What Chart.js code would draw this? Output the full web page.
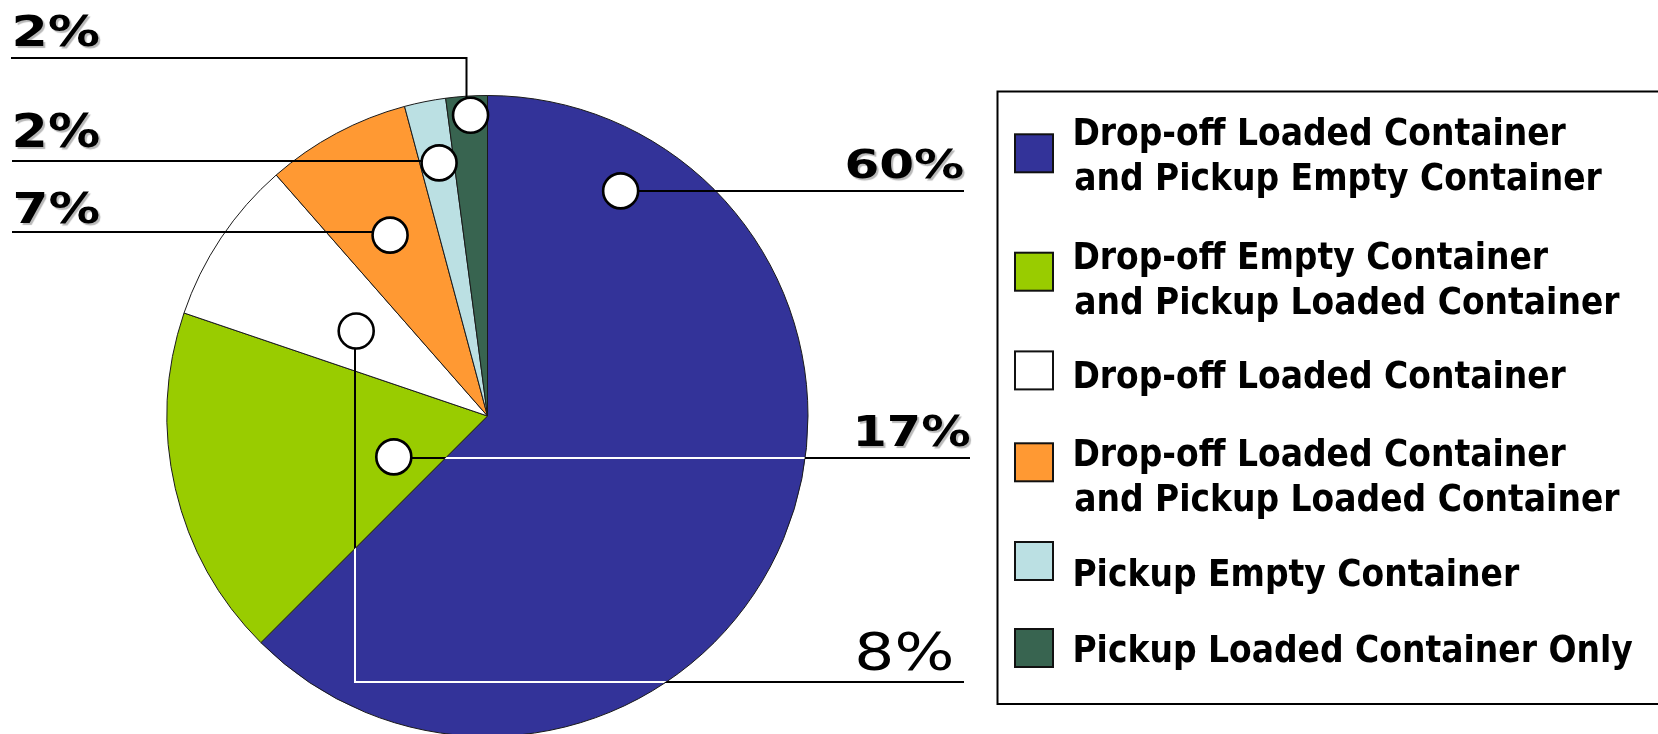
<!DOCTYPE html>
<html>
<head>
<meta charset="utf-8">
<script src="https://cdn.jsdelivr.net/npm/chart.js@4.4.1/dist/chart.umd.min.js"></script>
<style>
  html, body { margin: 0; padding: 0; background: #fff; overflow: hidden; }
  #wrap { width: 1658px; height: 734px; }
</style>
</head>
<body>
<div id="wrap"><canvas id="tripChart" width="1658" height="734"></canvas></div>
<script>
// trip types and their share of terminal visits (%)
const categories = [
    ['Drop-off Loaded Container', 'and Pickup Empty Container'],
    ['Drop-off Empty Container', 'and Pickup Loaded Container'],
    ['Drop-off Loaded Container'],
    ['Drop-off Loaded Container', 'and Pickup Loaded Container'],
    ['Pickup Empty Container'],
    ['Pickup Loaded Container Only']
];
const shares = [60, 17, 8, 7, 2, 2];
const sliceColors = ['#333399', '#99CC00', '#FFFFFF', '#FF9933', '#BBE0E3', '#386450'];

// callout placement (marker position inside the slice, leader route, label box)
const callouts = [
    { at: 0.136, r: 0.816, route: 'right', endX: 964, dy: 0, label: { right: 963, gap: 13.3, w: 116, cap: 28.4, bold: true } },
    { at: 0.336, r: 0.319, route: 'right', endX: 970, dy: 0.7, label: { right: 970, gap: 11.7, w: 113, cap: 31.7, bold: true } },
    { at: 0.472, r: 0.488, route: 'down', downY: 682, endX: 964, label: { right: 951.7, gap: 12.4, w: 93.7, cap: 37.7, bold: false } },
    { at: 0.493, r: 0.641, route: 'left', endX: 12, dy: -3, label: { left: 15, gap: 9.3, w: 84.3, cap: 31, bold: true } },
    { at: 0.556, r: 0.804, route: 'left', endX: 12, dy: -2.3, label: { left: 15, gap: 14, w: 84.3, cap: 33.3, bold: true } },
    { at: 0.570, r: 0.940, route: 'up', upY: 58, dx: -5, endX: 11, label: { left: 15, gap: 12, w: 84.3, cap: 31.7, bold: true } }
];

const legendLayout = {
    box: { x: 997.5, y: 91.5, w: 700, h: 612.5 },
    swatchX: 1015, swatchSize: 38,
    swatchTops: [134.3, 252.7, 351.4, 443.3, 542, 629],
    textX: 1075,
    baselines: [[145, 190], [268.5, 313.5], [388], [466, 511], [586], [662]],
    cap: 27.7, refWidth: 558
};

const MARK_R = 17.5;
const FONT = '"DejaVu Sans", Verdana, sans-serif';

function fitText(ctx, text, x, base, w, cap, weight, align) {
    const size = cap / 0.729;
    ctx.font = weight + ' ' + size + 'px ' + FONT;
    const m = ctx.measureText(text);
    const ink = m.actualBoundingBoxRight + m.actualBoundingBoxLeft;
    const sx = w / ink;
    const left = align === 'right' ? x - w : x;
    ctx.save();
    ctx.textAlign = 'left';
    ctx.textBaseline = 'alphabetic';
    ctx.translate(left + m.actualBoundingBoxLeft * sx, base);
    ctx.scale(sx, 1);
    ctx.fillText(text, 0, 0);
    ctx.restore();
}

function isDark(hex) {
    const v = parseInt(hex.slice(1), 16);
    const r = (v >> 16) & 255, g = (v >> 8) & 255, b = v & 255;
    return (0.299 * r + 0.587 * g + 0.114 * b) < 110;
}

const calloutPlugin = {
    id: 'callouts',
    afterDatasetsDraw(chart) {
        const ctx = chart.ctx;
        const arcs = chart.getDatasetMeta(0).data;
        const values = chart.data.datasets[0].data;

        arcs.forEach((arc, i) => {
            const c = callouts[i];
            const p = arc.getProps(['x', 'y', 'startAngle', 'endAngle', 'outerRadius'], true);
            const a = p.startAngle + (p.endAngle - p.startAngle) * c.at;
            const mx = p.x + Math.cos(a) * p.outerRadius * c.r;
            const my = p.y + Math.sin(a) * p.outerRadius * c.r;

            let pts, lineY;
            if (c.route === 'right' || c.route === 'left') {
                lineY = Math.round(my + c.dy);
                pts = [[mx, lineY], [c.endX, lineY]];
            } else if (c.route === 'down') {
                const vx = Math.round(mx - 1.3);
                lineY = c.downY;
                pts = [[vx, my], [vx, lineY], [c.endX, lineY]];
            } else {
                const vx = Math.round(mx + c.dx) + 0.5;
                lineY = c.upY;
                pts = [[vx, my], [vx, lineY], [c.endX, lineY]];
            }

            const stroke = (color) => {
                ctx.beginPath();
                ctx.moveTo(pts[0][0], pts[0][1]);
                for (let k = 1; k < pts.length; k++) ctx.lineTo(pts[k][0], pts[k][1]);
                ctx.strokeStyle = color;
                ctx.lineWidth = 2;
                ctx.lineJoin = 'miter';
                ctx.stroke();
            };

            ctx.save();
            stroke('#000');
            // leader turns white where it crosses another, dark slice
            arcs.forEach((other, j) => {
                if (j === i || !isDark(sliceColors[j])) return;
                const q = other.getProps(['x', 'y', 'startAngle', 'endAngle', 'outerRadius'], true);
                ctx.save();
                ctx.beginPath();
                ctx.moveTo(q.x, q.y);
                ctx.arc(q.x, q.y, q.outerRadius - 0.5, q.startAngle, q.endAngle);
                ctx.closePath();
                ctx.clip();
                stroke('#fff');
                ctx.restore();
            });
            ctx.restore();

            // marker
            ctx.save();
            ctx.beginPath();
            ctx.arc(mx, my, MARK_R, 0, Math.PI * 2);
            ctx.fillStyle = '#fff';
            ctx.fill();
            ctx.lineWidth = 2.6;
            ctx.strokeStyle = '#000';
            ctx.stroke();
            ctx.restore();

            // percentage label
            const L = c.label;
            ctx.save();
            ctx.fillStyle = '#000';
            if (L.bold) {
                ctx.shadowColor = 'rgba(0,0,0,0.28)';
                ctx.shadowOffsetX = 2;
                ctx.shadowOffsetY = 2;
                ctx.shadowBlur = 1;
            }
            const txt = values[i] + '%';
            if (L.right !== undefined) {
                fitText(ctx, txt, L.right, lineY - L.gap, L.w, L.cap, L.bold ? 'bold' : 'normal', 'right');
            } else {
                fitText(ctx, txt, L.left, lineY - L.gap, L.w, L.cap, 'bold', 'left');
            }
            ctx.restore();
        });
    }
};

const legendPlugin = {
    id: 'boxLegend',
    afterDraw(chart) {
        const ctx = chart.ctx;
        const lay = legendLayout;
        const labels = chart.data.labels;
        const colors = chart.data.datasets[0].backgroundColor;

        ctx.save();
        ctx.lineWidth = 2;
        ctx.strokeStyle = '#000';
        ctx.strokeRect(lay.box.x, lay.box.y, lay.box.w, lay.box.h);

        const size = lay.cap / 0.729;
        ctx.font = 'bold ' + size + 'px ' + FONT;
        const ref = ctx.measureText(labels[5][0]);
        const sx = lay.refWidth / (ref.actualBoundingBoxRight + ref.actualBoundingBoxLeft);

        labels.forEach((lines, i) => {
            ctx.fillStyle = colors[i];
            ctx.fillRect(lay.swatchX, lay.swatchTops[i], lay.swatchSize, lay.swatchSize);
            ctx.strokeStyle = '#111';
            ctx.lineWidth = 2;
            ctx.strokeRect(lay.swatchX, lay.swatchTops[i], lay.swatchSize, lay.swatchSize);

            ctx.fillStyle = '#000';
            ctx.textAlign = 'left';
            ctx.textBaseline = 'alphabetic';
            lines.forEach((line, k) => {
                const m = ctx.measureText(line);
                ctx.save();
                ctx.translate(lay.textX + m.actualBoundingBoxLeft * sx, lay.baselines[i][k]);
                ctx.scale(sx, 1);
                ctx.fillText(line, 0, 0);
                ctx.restore();
            });
        });
        ctx.restore();
    }
};

const ctx = document.getElementById('tripChart').getContext('2d');
new Chart(ctx, {
    type: 'pie',
    data: {
        labels: categories,
        datasets: [{
            data: shares,
            backgroundColor: sliceColors,
            borderColor: '#1a1a1a',
            borderWidth: 1,
            radius: 320.5,
            hoverOffset: 0
        }]
    },
    options: {
        responsive: false,
        animation: false,
        layout: { padding: { top: 98, bottom: 0, left: 0, right: 683 } },
        plugins: {
            legend: { display: false },
            tooltip: { enabled: false }
        }
    },
    plugins: [calloutPlugin, legendPlugin]
});
</script>
</body>
</html>
